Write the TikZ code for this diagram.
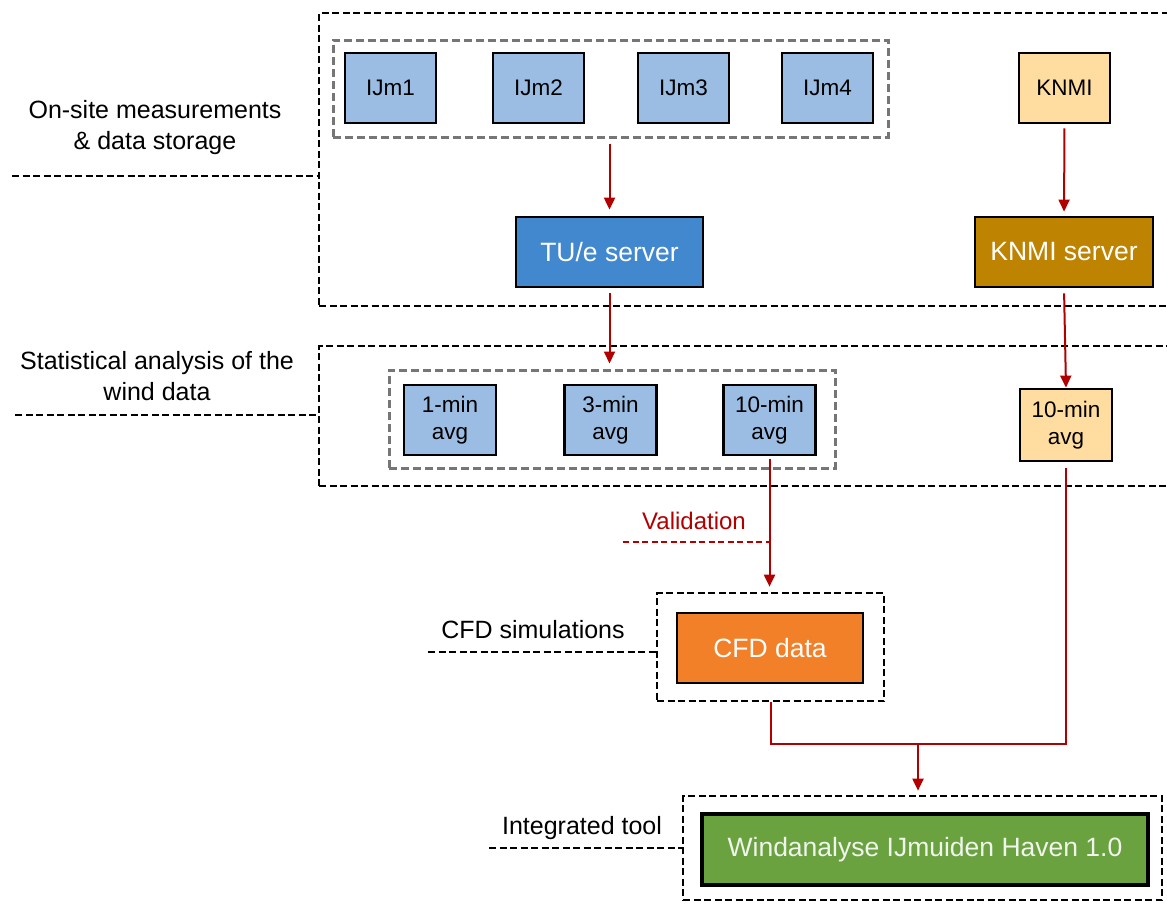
\documentclass[tikz,border=0pt]{standalone}
\usepackage{fontspec}
\setmainfont{Liberation Sans}
\usetikzlibrary{arrows.meta}

\definecolor{ijmblue}{RGB}{155,189,227}
\definecolor{serverblue}{RGB}{66,136,206}
\definecolor{knmilight}{RGB}{255,221,160}
\definecolor{knmidark}{RGB}{190,131,0}
\definecolor{cfdorange}{RGB}{242,128,40}
\definecolor{toolgreen}{RGB}{106,162,64}
\definecolor{flowred}{RGB}{178,0,0}
\definecolor{groupgray}{RGB}{118,118,118}

\tikzset{
  box/.style={draw=black, line width=2.8pt, inner sep=0pt, align=center,
    font=\fontsize{22.5}{27}\selectfont},
  sensor/.style={box, fill=ijmblue, minimum width=91pt, minimum height=70pt},
  knmibox/.style={box, fill=knmilight, minimum width=91pt, minimum height=70pt},
  server/.style={box, text=white, minimum height=70pt, font=\fontsize{26.5}{30}\selectfont},
  group/.style={draw=groupgray, line width=3pt, dash pattern=on 8pt off 4pt, inner sep=0pt},
  frame/.style={draw=black, line width=2.7pt, dash pattern=on 7pt off 3.5pt, inner sep=0pt},
  leader/.style={draw=black, line width=2.7pt, dash pattern=on 7pt off 3.5pt},
  caption/.style={align=center, inner sep=0pt, font=\fontsize{25}{31}\selectfont},
  flow/.style={draw=flowred, line width=2pt, -{Triangle[length=12pt,width=11pt]}},
  link/.style={draw=flowred, line width=2pt},
}

\begin{document}
\begin{tikzpicture}[x=1pt, y=-1pt]
\clip (0,0) rectangle (1167,903);
\fill[white] (0,0) rectangle (1167,903);

% stage frames
\node[frame, minimum width=861pt, minimum height=293pt] (stage1) at (749.5,159.5) {};
\node[frame, minimum width=861pt, minimum height=140pt] (stage2) at (749.5,416) {};
\node[frame, minimum width=227pt, minimum height=108pt] (cfdframe) at (770.5,647) {};
\node[frame, minimum width=479pt, minimum height=104pt] (toolframe) at (922.5,848) {};

% measurement stations
\node[group, minimum width=555pt, minimum height=97pt] (grp1) at (610.5,88.5) {};
\node[sensor] (ijm1) at (390.5,88) {IJm1};
\node[sensor] (ijm2) at (538.5,88) {IJm2};
\node[sensor] (ijm3) at (683.5,88) {IJm3};
\node[sensor] (ijm4) at (827.5,88) {IJm4};
\node[knmibox] (knmi) at (1064.5,88) {KNMI};

% servers
\node[server, fill=serverblue, minimum width=187pt] (tue) at (609.5,252) {TU/e server};
\node[server, fill=knmidark, minimum width=178pt] (knmisrv) at (1064,252) {KNMI server};

% averaged data
\node[group, minimum width=446pt, minimum height=98pt] (grp2) at (612,419) {};
\node[sensor, minimum width=92pt] (avg1) at (450,420) {1-min\\avg};
\node[sensor, minimum width=92pt] (avg3) at (610.5,420) {3-min\\avg};
\node[sensor, minimum width=92pt] (avg10) at (769.5,420) {10-min\\avg};
\node[knmibox, minimum width=92pt, minimum height=72pt] (knmiavg) at (1066,425) {10-min\\avg};

% simulations and tool
\node[server, fill=cfdorange, minimum width=186pt] (cfd) at (770,648) {CFD data};
\node[server, fill=toolgreen, text={rgb,255:red,240;green,244;blue,236}, line width=3.6pt,
  minimum width=446pt, minimum height=71pt] (tool) at (925,849.5) {Windanalyse IJmuiden Haven 1.0};

% stage captions with leader lines
\node[caption] (cap1) at (155,128) {On-site measurements\\\& data storage};
\coordinate (lead1) at (12,176);
\draw[leader] (lead1) -- (lead1 -| stage1.west);

\node[caption] (cap2) at (157,376) {Statistical analysis of the\\wind data};
\coordinate (lead2) at (15,415);
\draw[leader] (lead2) -- (lead2 -| stage2.west);

\node[caption] (cap3) at (533,630) {CFD simulations};
\coordinate (lead3) at (428,652);
\draw[leader] (lead3) -- (lead3 -| cfdframe.west);

\node[caption] (cap4) at (582,828) {Integrated tool};
\coordinate (lead4) at (489,848);
\draw[leader] (lead4) -- (lead4 -| toolframe.west);

% data flow
\draw[flow, shorten <=5pt, shorten >=6pt] (tue.north |- grp1.south) -- (tue.north);
\draw[flow, shorten <=4pt, shorten >=4pt] (knmi.south) -- (knmisrv.north);
\draw[flow, shorten <=5pt, shorten >=5pt] (tue.south) -- (tue.south |- grp2.north);
\draw[flow, shorten <=5pt] (knmisrv.south) -- (knmiavg.north);
\draw[flow, shorten <=3pt, shorten >=5pt] (avg10.south) -- (avg10.south |- cfdframe.north);

% validation marker
\node[font=\fontsize{24}{28}\selectfont, text=flowred, inner sep=0pt] (valtext) at (694,521) {Validation};
\coordinate (val) at (623,542);
\draw[draw=flowred, line width=2.5pt, dash pattern=on 6pt off 3.5pt] (val) -- (val -| avg10.south);

% merging the two data streams
\coordinate (merge) at (918,744);
\draw[link, shorten >=6pt] (cfdframe.south) |- (merge -| knmiavg.south) -- (knmiavg.south);
\draw[flow, shorten >=4pt] (merge) -- (merge |- toolframe.north);
\end{tikzpicture}
\end{document}
